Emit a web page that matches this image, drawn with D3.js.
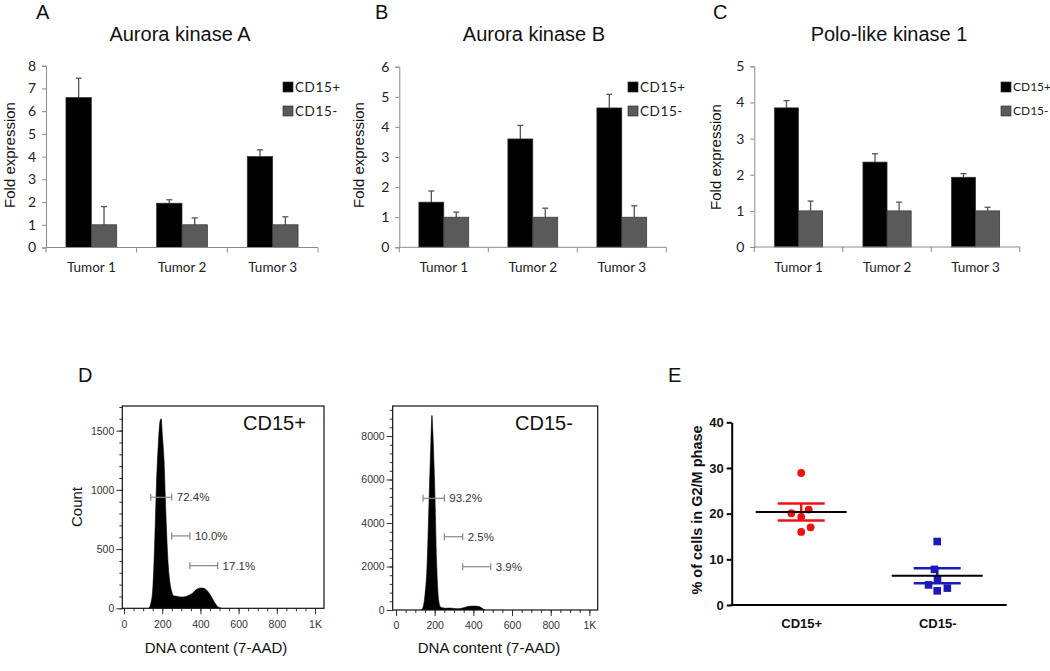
<!DOCTYPE html>
<html><head><meta charset="utf-8">
<script src="https://cdn.jsdelivr.net/npm/d3@7"></script>
<style>body{margin:0;background:#fff}svg{display:block}</style>
</head><body>
<svg id="chart" width="1050" height="671"></svg>
<script>
// ---------------- DATA ----------------
const tumors = ["Tumor 1", "Tumor 2", "Tumor 3"];
const seriesNames = ["CD15+", "CD15-"];

const aurkaTitle = "Aurora kinase A";
const aurkaPos = [6.6, 1.95, 4.0];
const aurkaPosErr = [0.85, 0.15, 0.3];
const aurkaNeg = [1.0, 1.0, 1.0];
const aurkaNegErr = [0.8, 0.3, 0.35];
const aurkaTicks = [0, 1, 2, 3, 4, 5, 6, 7, 8];

const aurkbTitle = "Aurora kinase B";
const aurkbPos = [1.5, 3.6, 4.63];
const aurkbPosErr = [0.37, 0.45, 0.45];
const aurkbNeg = [1.0, 1.0, 1.0];
const aurkbNegErr = [0.17, 0.3, 0.38];
const aurkbTicks = [0, 1, 2, 3, 4, 5, 6];

const plk1Title = "Polo-like kinase 1";
const plk1Pos = [3.85, 2.35, 1.93];
const plk1PosErr = [0.2, 0.23, 0.1];
const plk1Neg = [1.0, 1.0, 1.0];
const plk1NegErr = [0.27, 0.24, 0.1];
const plk1Ticks = [0, 1, 2, 3, 4, 5];

// Flow histograms (DNA content bin, count)
const histPosX = [130, 140, 150, 160, 170, 180, 190, 195, 200, 210, 220, 230, 240, 250, 260, 280, 300, 320, 340, 360, 380, 400, 420, 440, 460, 470, 480, 490, 500, 510];
const histPosY = [0, 40, 150, 520, 1050, 1400, 1590, 1600, 1480, 1230, 760, 400, 220, 140, 105, 100, 95, 98, 110, 130, 160, 172, 168, 140, 90, 60, 35, 15, 5, 0];
const histNegX = [130, 140, 150, 160, 170, 180, 186, 190, 200, 210, 220, 230, 240, 260, 280, 300, 320, 340, 360, 380, 400, 420, 440, 450, 460];
const histNegY = [0, 130, 700, 1900, 4700, 7600, 8950, 8300, 5700, 2200, 500, 140, 100, 80, 90, 70, 60, 80, 130, 170, 180, 170, 120, 50, 0];
const histPosYTicks = [0, 500, 1000, 1500];
const histNegYTicks = [0, 2000, 4000, 6000, 8000];
const histXTicks = [0, 200, 400, 600, 800, 1000];
const gateStart = [140, 250, 345];
const gateEnd = [250, 345, 490];
const gatePosY = [937, 611, 360];
const gatePosLabels = ["72.4%", "10.0%", "17.1%"];
const gateNegY = [5135, 3370, 1990];
const gateNegLabels = ["93.2%", "2.5%", "3.9%"];

// G2/M scatter
const g2mGroups = ["CD15+", "CD15-"];
const g2mPos = [28.9, 20.1, 19.3, 20.9, 16.0, 17.0];
const g2mNeg = [13.9, 7.8, 4.4, 5.6, 3.1, 3.7];
const g2mTicks = [0, 10, 20, 30, 40];

// ---------------- DRAW ----------------
const svg = d3.select("#chart");
const ARIAL = "'Liberation Sans', Arial, sans-serif";
const CAL = "Lato, 'Open Sans', sans-serif";

function panelLetter(t, x, y) {
  svg.append("text").attr("x", x).attr("y", y).text(t)
    .attr("font-family", ARIAL).attr("font-size", 20).attr("fill", "#111");
}

function barPanel(cfg) {
  const g = svg.append("g");
  const x = d3.scaleBand().domain(tumors).range([cfg.x0, cfg.x1])
    .paddingInner(cfg.pad).paddingOuter(cfg.pad / 2);
  const xs = d3.scaleBand().domain(seriesNames).range([0, x.bandwidth()]);
  const y = d3.scaleLinear().domain([0, d3.max(cfg.ticks)]).range([cfg.y0, cfg.yTop]);

  const rows = [];
  tumors.forEach((t, i) => {
    rows.push({ t, s: "CD15+", v: cfg.pos[i], e: cfg.posErr[i] });
    rows.push({ t, s: "CD15-", v: cfg.neg[i], e: cfg.negErr[i] });
  });
  const color = { "CD15+": "#000000", "CD15-": "#5a5a5a" };
  rows.forEach(d => {
    const cx = x(d.t) + xs(d.s) + xs.bandwidth() / 2;
    g.append("line").attr("x1", cx).attr("x2", cx).attr("y1", y(d.v)).attr("y2", y(d.v + d.e))
      .attr("stroke", "#555").attr("stroke-width", 1.3);
    g.append("line").attr("x1", cx - 3).attr("x2", cx + 3).attr("y1", y(d.v + d.e)).attr("y2", y(d.v + d.e))
      .attr("stroke", "#555").attr("stroke-width", 1.3);
  });
  g.selectAll("rect.bar").data(rows).join("rect").attr("class", "bar")
    .attr("x", d => x(d.t) + xs(d.s)).attr("width", xs.bandwidth())
    .attr("y", d => y(d.v)).attr("height", d => y(0) - y(d.v))
    .attr("fill", d => color[d.s]).attr("stroke", "#333").attr("stroke-width", 0.7);

  const ya = g.append("g").attr("transform", `translate(${cfg.x0},0)`)
    .call(d3.axisLeft(y).tickValues(cfg.ticks).tickSize(4).tickPadding(6).tickFormat(d3.format("d")));
  ya.select(".domain").attr("stroke", "#8a8a8a");
  ya.selectAll(".tick line").attr("stroke", "#8a8a8a");
  ya.selectAll("text").attr("font-family", CAL).attr("font-size", 14).attr("fill", "#222");

  const xa = g.append("g").attr("transform", `translate(0,${cfg.y0})`)
    .call(d3.axisBottom(x).tickSize(0).tickPadding(15));
  xa.select(".domain").remove();
  xa.selectAll("text").attr("font-family", CAL).attr("font-size", 13.5).attr("fill", "#222");
  g.append("line").attr("x1", cfg.x0).attr("x2", cfg.x1).attr("y1", cfg.y0).attr("y2", cfg.y0)
    .attr("stroke", "#8a8a8a");
  d3.range(tumors.length + 1).forEach(i => {
    const bx = cfg.x0 + i * x.step();
    g.append("line").attr("x1", bx).attr("x2", bx).attr("y1", cfg.y0).attr("y2", cfg.y0 + 5)
      .attr("stroke", "#8a8a8a");
  });

  g.append("text").attr("x", cfg.titleX).attr("y", 41).attr("text-anchor", "middle")
    .attr("font-family", ARIAL).attr("font-size", 20).attr("fill", "#111").text(cfg.title);
  g.append("text").attr("transform", `translate(${cfg.ylabX},${cfg.ylabY}) rotate(-90)`)
    .attr("text-anchor", "middle").attr("dy", "0.35em")
    .attr("font-family", ARIAL).attr("font-size", 15).attr("fill", "#111").text("Fold expression");

  seriesNames.forEach((s, i) => {
    const ly = 82 + i * 24;
    g.append("rect").attr("x", cfg.legX).attr("y", ly).attr("width", 10).attr("height", 10)
      .attr("fill", color[s]).attr("stroke", "#333").attr("stroke-width", 0.7);
    g.append("text").attr("x", cfg.legX + 12).attr("y", ly + 5).attr("dy", "0.36em")
      .attr("font-family", CAL).attr("font-size", cfg.legFont).attr("letter-spacing", cfg.legSpace)
      .attr("fill", "#222").text(s);
  });
}

barPanel({ title: aurkaTitle, pos: aurkaPos, posErr: aurkaPosErr, neg: aurkaNeg, negErr: aurkaNegErr,
  ticks: aurkaTicks, x0: 46, x1: 318, pad: 0.44, y0: 247.5, yTop: 65.7,
  titleX: 180, ylabX: 10, ylabY: 155, legX: 283, legFont: 13.5, legSpace: 0.6 });
barPanel({ title: aurkbTitle, pos: aurkbPos, posErr: aurkbPosErr, neg: aurkbNeg, negErr: aurkbNegErr,
  ticks: aurkbTicks, x0: 399.3, x1: 666.3, pad: 0.44, y0: 247.3, yTop: 66.7,
  titleX: 534, ylabX: 359, ylabY: 155, legX: 628, legFont: 13.5, legSpace: 0.6 });
barPanel({ title: plk1Title, pos: plk1Pos, posErr: plk1PosErr, neg: plk1Neg, negErr: plk1NegErr,
  ticks: plk1Ticks, x0: 754.3, x1: 1019.8, pad: 0.455, y0: 247, yTop: 66.3,
  titleX: 889, ylabX: 716, ylabY: 157, legX: 1001, legFont: 12, legSpace: 0 });

panelLetter("A", 36, 19);
panelLetter("B", 375, 19);
panelLetter("C", 713, 19);
panelLetter("D", 78, 382);
panelLetter("E", 668, 382);

// ---------- histograms ----------
function histPanel(cfg) {
  const g = svg.append("g");
  const x = d3.scaleLinear().domain(cfg.xdom).range([cfg.bx0, cfg.bx1]);
  const y = d3.scaleLinear().domain([0, cfg.ymax]).range([cfg.by1, cfg.by0]);
  const pts = cfg.hx.map((v, i) => [v, cfg.hy[i]]);
  const clipId = "clip" + cfg.id;
  g.append("clipPath").attr("id", clipId).append("rect")
    .attr("x", cfg.bx0).attr("y", cfg.by0).attr("width", cfg.bx1 - cfg.bx0).attr("height", cfg.by1 - cfg.by0);
  g.append("path").datum(pts).attr("clip-path", `url(#${clipId})`)
    .attr("d", d3.area().x(d => x(d[0])).y0(y(0)).y1(d => y(d[1])).curve(d3.curveMonotoneX))
    .attr("fill", "#000").attr("stroke", "#000").attr("stroke-width", 0.6);

  const ymin = d3.range(0, cfg.ymax, cfg.yMinorStep);
  const xmin = d3.range(0, cfg.xdom[1], 50);
  const yMinor = g.append("g").attr("transform", `translate(${cfg.bx0},0)`)
    .call(d3.axisLeft(y).tickValues(ymin).tickSize(3).tickFormat(""));
  const xMinor = g.append("g").attr("transform", `translate(0,${cfg.by1})`)
    .call(d3.axisBottom(x).tickValues(xmin).tickSize(3).tickFormat(""));
  [yMinor, xMinor].forEach(a => { a.select(".domain").remove(); a.selectAll("line").attr("stroke", "#333"); });

  const ya = g.append("g").attr("transform", `translate(${cfg.bx0},0)`)
    .call(d3.axisLeft(y).tickValues(cfg.yticks).tickSize(6).tickPadding(2).tickFormat(d3.format("d")));
  const xa = g.append("g").attr("transform", `translate(0,${cfg.by1})`)
    .call(d3.axisBottom(x).tickValues(histXTicks).tickSize(6).tickPadding(6)
      .tickFormat(d => d === 1000 ? "1K" : String(d)));
  [ya, xa].forEach(a => {
    a.select(".domain").remove();
    a.selectAll("line").attr("stroke", "#333");
    a.selectAll("text").attr("font-family", ARIAL).attr("font-size", 10.5).attr("fill", "#333");
  });

  g.append("rect").attr("x", cfg.bx0).attr("y", cfg.by0).attr("width", cfg.bx1 - cfg.bx0)
    .attr("height", cfg.by1 - cfg.by0).attr("fill", "none").attr("stroke", "#111").attr("stroke-width", 1.2);

  gateStart.forEach((s, i) => {
    const gy = y(cfg.gateY[i]);
    const xa0 = x(s), xa1 = x(gateEnd[i]);
    g.append("line").attr("x1", xa0).attr("x2", xa1).attr("y1", gy).attr("y2", gy).attr("stroke", "#888").attr("stroke-width", 1.2);
    [xa0, xa1].forEach(px => g.append("line").attr("x1", px).attr("x2", px).attr("y1", gy - 3.5).attr("y2", gy + 3.5)
      .attr("stroke", "#888").attr("stroke-width", 1.2));
    g.append("text").attr("x", xa1 + 5).attr("y", gy).attr("dy", "0.36em")
      .attr("font-family", ARIAL).attr("font-size", 11.5).attr("fill", "#333").text(cfg.gateLabels[i]);
  });

  g.append("text").attr("x", cfg.nameX).attr("y", 430).attr("font-family", ARIAL).attr("font-size", 20)
    .attr("fill", "#111").text(cfg.name);
  g.append("text").attr("x", cfg.xlabX).attr("y", 653).attr("text-anchor", "middle")
    .attr("font-family", ARIAL).attr("font-size", 15).attr("fill", "#111").text("DNA content (7-AAD)");
  if (cfg.ylab) {
    g.append("text").attr("transform", `translate(${cfg.ylabX},${cfg.ylabY}) rotate(-90)`)
      .attr("text-anchor", "middle").attr("dy", "0.35em")
      .attr("font-family", ARIAL).attr("font-size", 15).attr("fill", "#111").text(cfg.ylab);
  }
}

histPanel({ id: 1, hx: histPosX, hy: histPosY, xdom: [-9, 1047], ymax: 1708, yticks: histPosYTicks, yMinorStep: 100,
  bx0: 122.3, bx1: 324, by0: 406, by1: 608.3, gateY: gatePosY, gateLabels: gatePosLabels,
  name: "CD15+", nameX: 243, xlabX: 216, ylab: "Count", ylabX: 77, ylabY: 507 });
histPanel({ id: 2, hx: histNegX, hy: histNegY, xdom: [-17, 1043], ymax: 9380, yticks: histNegYTicks, yMinorStep: 400,
  bx0: 392.7, bx1: 597.7, by0: 406, by1: 610, gateY: gateNegY, gateLabels: gateNegLabels,
  name: "CD15-", nameX: 515, xlabX: 489 });

// ---------- scatter E ----------
(function () {
  const g = svg.append("g");
  const x0 = 731.7, x1 = 1006.7, y0 = 605, yTop = 422.3;
  const x = d3.scalePoint().domain(g2mGroups).range([x0, x1]).padding(0.511);
  const y = d3.scaleLinear().domain([0, 40]).range([y0, yTop]);
  const groups = [
    { name: "CD15+", vals: g2mPos, color: "#f01010", shape: "circle" },
    { name: "CD15-", vals: g2mNeg, color: "#1a1ab8", shape: "square" }
  ];
  const D = 10.5;
  groups.forEach(grp => {
    const cx = x(grp.name);
    const sorted = grp.vals.map(v => ({ v, py: y(v) })).sort((a, b) => a.v - b.v);
    const placed = [];
    let side = 1;
    sorted.forEach(p => {
      const cands = [0];
      placed.forEach(q => {
        const dy = Math.abs(q.py - p.py);
        if (dy < D) { const dx = Math.sqrt(D * D - dy * dy); cands.push(q.ox + dx, q.ox - dx); }
      });
      const ok = cands.filter(c => placed.every(q => Math.hypot(q.ox - c, q.py - p.py) >= D - 0.01));
      ok.sort((a, b) => Math.abs(a) - Math.abs(b) || (side > 0 ? b - a : a - b));
      p.ox = ok[0];
      if (p.ox !== 0) side = -side;
      placed.push(p);
    });
    placed.forEach(p => {
      if (grp.shape === "circle") {
        g.append("circle").attr("cx", cx + p.ox).attr("cy", p.py).attr("r", 3.9).attr("fill", grp.color);
      } else {
        g.append("rect").attr("x", cx + p.ox - 3.8).attr("y", p.py - 3.8).attr("width", 7.6).attr("height", 7.6).attr("fill", grp.color);
      }
    });
    const mean = d3.mean(grp.vals);
    const sem = d3.deviation(grp.vals) / Math.sqrt(grp.vals.length);
    g.append("line").attr("x1", cx).attr("x2", cx).attr("y1", y(mean + sem)).attr("y2", y(mean - sem))
      .attr("stroke", grp.color).attr("stroke-width", 2.5);
    [mean + sem, mean - sem].forEach(v => g.append("line").attr("x1", cx - 23.5).attr("x2", cx + 23.5)
      .attr("y1", y(v)).attr("y2", y(v)).attr("stroke", grp.color).attr("stroke-width", 2.5));
    g.append("line").attr("x1", cx - 45.5).attr("x2", cx + 45.5).attr("y1", y(mean)).attr("y2", y(mean))
      .attr("stroke", "#000").attr("stroke-width", 2);
  });

  const ya = g.append("g").attr("transform", `translate(${x0},0)`)
    .call(d3.axisLeft(y).tickValues(g2mTicks).tickSize(5).tickPadding(3).tickSizeOuter(0));
  ya.select(".domain").attr("stroke", "#000").attr("stroke-width", 2);
  ya.selectAll(".tick line").attr("stroke", "#000").attr("stroke-width", 2);
  ya.selectAll("text").attr("font-family", ARIAL).attr("font-weight", "bold").attr("font-size", 13).attr("fill", "#111");
  const xa = g.append("g").attr("transform", `translate(0,${y0})`)
    .call(d3.axisBottom(x).tickSize(0).tickPadding(14));
  xa.select(".domain").remove();
  xa.selectAll("text").attr("font-family", ARIAL).attr("font-weight", "bold").attr("font-size", 13).attr("fill", "#111");
  g.append("line").attr("x1", x0 - 1).attr("x2", x1).attr("y1", y0).attr("y2", y0).attr("stroke", "#000").attr("stroke-width", 2);
  g.append("text").attr("transform", `translate(697,510) rotate(-90)`).attr("text-anchor", "middle").attr("dy", "0.35em")
    .attr("font-family", ARIAL).attr("font-weight", "bold").attr("font-size", 14.5).attr("fill", "#111")
    .text("% of cells in G2/M phase");
})();
</script>
</body></html>
